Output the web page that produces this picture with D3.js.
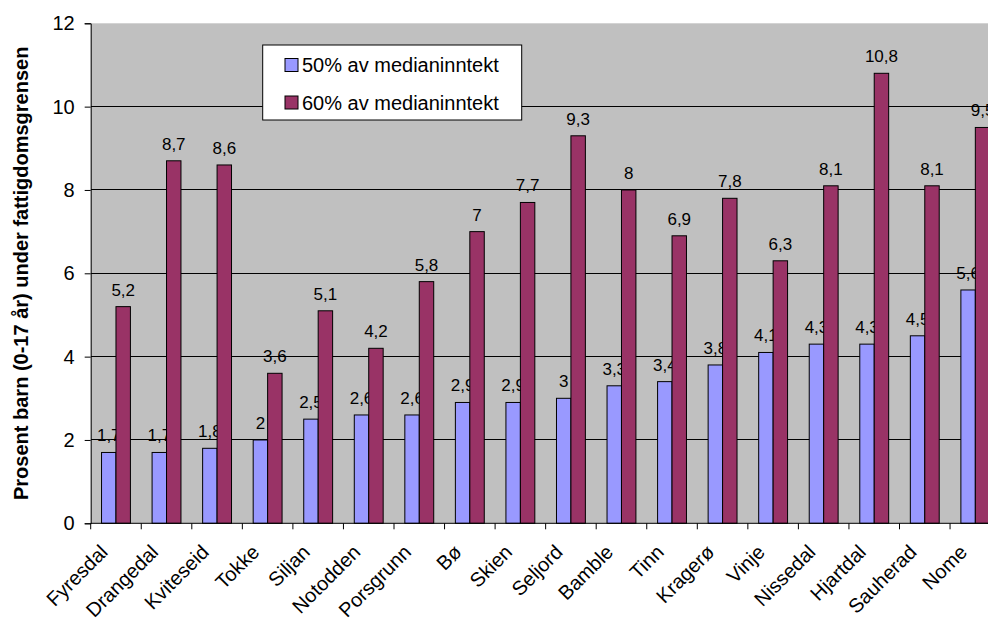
<!DOCTYPE html>
<html><head><meta charset="utf-8">
<script src="https://cdn.jsdelivr.net/npm/d3@7"></script>
<style>body{margin:0;background:#fff;}svg{display:block;font-family:"Liberation Sans",Arial,sans-serif;}</style>
</head><body><svg id="c" width="988" height="621"></svg>
<script>
const categories = ["Fyresdal","Drangedal","Kviteseid","Tokke","Siljan","Notodden","Porsgrunn","Bø","Skien","Seljord","Bamble","Tinn","Kragerø","Vinje","Nissedal","Hjartdal","Sauherad","Nome"];
const series50 = [1.7,1.7,1.8,2,2.5,2.6,2.6,2.9,2.9,3,3.3,3.4,3.8,4.1,4.3,4.3,4.5,5.6];
const series60 = [5.2,8.7,8.6,3.6,5.1,4.2,5.8,7,7.7,9.3,8,6.9,7.8,6.3,8.1,10.8,8.1,9.5];
const seriesNames = ["50% av medianinntekt","60% av medianinntekt"];
const yTicks = [0,2,4,6,8,10,12];
const colors = ["#9999FF","#993366"];

const svg = d3.select("#c");
const pLeft = 90.7, pTop = 23.3, pBottom = 523.3;
const band = 50.55;
const pRight = pLeft + band * categories.length;

const x = d3.scaleBand().domain(categories).range([pLeft, pRight]).paddingInner(0).paddingOuter(0);
const y = d3.scaleLinear().domain([0,12]).range([pBottom, pTop]);
const barW = x.bandwidth() / 3.5;

svg.append("rect").attr("x", pLeft).attr("y", pTop).attr("width", pRight-pLeft).attr("height", pBottom-pTop).attr("fill","#C0C0C0");

// gridlines
svg.append("g").selectAll("line").data(yTicks.filter(d=>d>0 && d<12)).join("line")
  .attr("x1", pLeft).attr("x2", pRight).attr("y1", d=>y(d)).attr("y2", d=>y(d))
  .attr("stroke","#000").attr("stroke-width",1).attr("shape-rendering","crispEdges");

const fmt = v => String(v).replace(".", ",");
const data = [series50, series60];
data.forEach((vals, si) => {
  const g = svg.append("g");
  g.selectAll("rect").data(vals).join("rect")
    .attr("x", (d,i) => x(categories[i]) + barW*0.75 + si*barW)
    .attr("y", d => y(d))
    .attr("width", barW)
    .attr("height", d => pBottom - y(d))
    .attr("fill", colors[si]).attr("stroke","#000").attr("stroke-width",1);
  g.selectAll("text").data(vals).join("text")
    .attr("x", (d,i) => x(categories[i]) + barW*0.75 + si*barW + barW/2)
    .attr("y", d => y(d) - 11)
    .attr("text-anchor","middle").attr("font-size", 17).attr("fill","#000")
    .text(d => fmt(d));
});

// y axis
const yAxis = d3.axisLeft(y).tickValues(yTicks).tickSize(6).tickPadding(10).tickFormat(d=>d);
const ya = svg.append("g").attr("transform", `translate(${pLeft},0)`).call(yAxis);
ya.select(".domain").attr("stroke","#000");
ya.selectAll(".tick line").attr("stroke","#000");
ya.selectAll("text").attr("font-size", 20).attr("font-family","Liberation Sans, Arial, sans-serif").attr("fill","#000");

// x axis
const xTickScale = d3.scaleLinear().domain([0, categories.length]).range([pLeft, pRight]);
const xa = svg.append("g");
xa.append("line").attr("x1", pLeft).attr("x2", pRight).attr("y1", pBottom).attr("y2", pBottom).attr("stroke","#000");
xa.selectAll("line.t").data(d3.range(categories.length+1)).join("line").attr("class","t")
  .attr("x1", d=>xTickScale(d)).attr("x2", d=>xTickScale(d)).attr("y1", pBottom).attr("y2", pBottom+6).attr("stroke","#000");
xa.selectAll("text").data(categories).join("text")
  .attr("transform", d => `translate(${x(d)+x.bandwidth()/2 - 7},${pBottom+30}) rotate(-45)`)
  .attr("text-anchor","end").attr("font-size", 20).attr("fill","#000")
  .text(d=>d);

// y title
svg.append("text").attr("transform", `translate(28,${(pTop+pBottom)/2}) rotate(-90)`)
  .attr("text-anchor","middle").attr("font-size",20).attr("font-weight","bold").attr("fill","#000")
  .text("Prosent barn (0-17 år) under fattigdomsgrensen");

// legend
const lg = svg.append("g");
lg.append("rect").attr("x",262.7).attr("y",45).attr("width",259).attr("height",75).attr("fill","#fff").attr("stroke","#000");
seriesNames.forEach((n,i) => {
  const cy = 65 + i*37.5;
  lg.append("rect").attr("x",285).attr("y",cy-6.5).attr("width",13).attr("height",13).attr("fill",colors[i]).attr("stroke","#000");
  lg.append("text").attr("x",302).attr("y",cy).attr("dy","0.36em").attr("font-size",20).attr("fill","#000").text(n);
});
</script></body></html>
